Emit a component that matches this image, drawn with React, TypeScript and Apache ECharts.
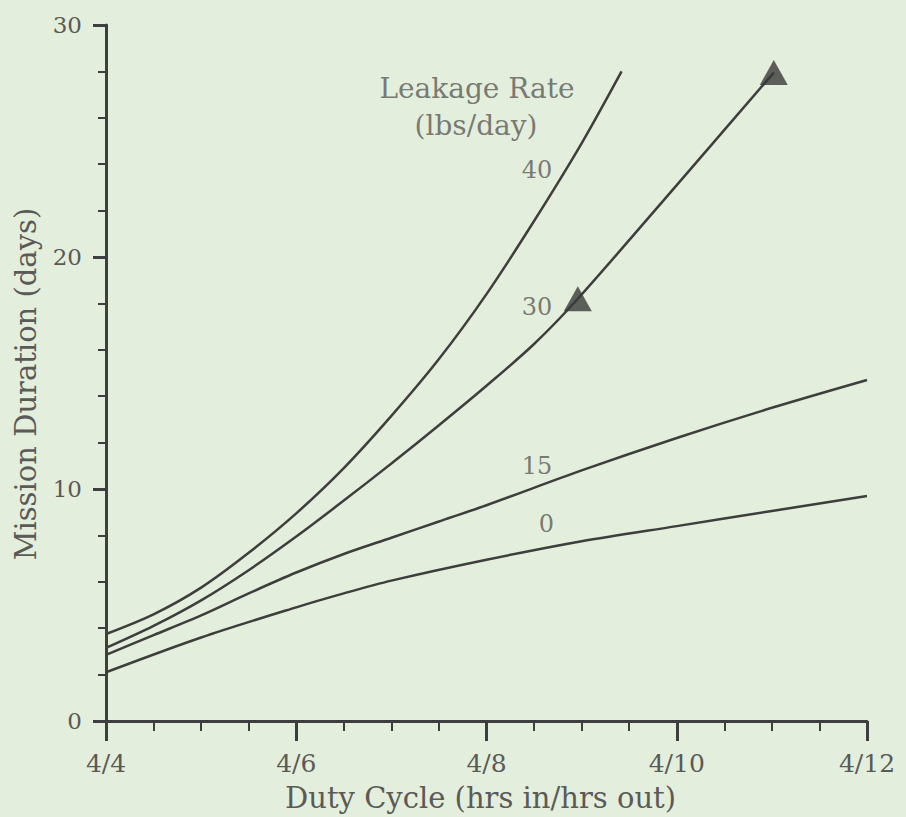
import React, { useEffect, useRef } from "react";
import * as echarts from "echarts";

// Duty cycle (hrs out, with 4 hrs in) vs mission duration (days), per leakage rate
const LEAK_40 = [[4, 3.75], [4.5, 4.6], [5, 5.75], [5.5, 7.25], [6, 8.95], [6.5, 10.9], [7, 13.15], [7.5, 15.6], [8, 18.4], [8.5, 21.55], [9, 24.9], [9.42, 28.0]];
const LEAK_30 = [[4, 3.15], [4.5, 4.1], [5, 5.2], [5.5, 6.5], [6, 7.95], [6.5, 9.5], [7, 11.1], [7.5, 12.75], [8, 14.45], [8.5, 16.25], [8.96, 18.2], [10, 23.1], [11.02, 27.95]];
const LEAK_15 = [[4, 2.85], [4.5, 3.7], [5, 4.55], [5.5, 5.5], [6, 6.4], [6.5, 7.2], [7, 7.9], [7.5, 8.6], [8, 9.3], [9, 10.8], [10, 12.2], [11, 13.5], [12, 14.7]];
const LEAK_0 = [[4, 2.1], [5, 3.6], [6, 4.9], [6.5, 5.5], [7, 6.05], [8, 6.95], [9, 7.75], [10, 8.4], [11, 9.05], [12, 9.7]];

const SERIES_NAMES = ["40", "30", "15", "0"];
const CURVE_LABELS = [
  { name: "40", value: [8.53, 23.74] },
  { name: "30", value: [8.53, 17.85] },
  { name: "15", value: [8.53, 10.97] },
  { name: "0", value: [8.63, 8.47] },
];
const TITLE_LINES = [
  { name: "Leakage Rate", value: [7.9, 27.27] },
  { name: "(lbs/day)", value: [7.89, 25.68] },
];
const TRIANGLES = [[8.96, 18.2], [11.02, 27.95]];

const X_MIN = 4, X_MAX = 12, X_STEP = 2;
const Y_MIN = 0, Y_MAX = 30, Y_STEP = 10;
const X_NAME = "Duty Cycle (hrs in/hrs out)";
const Y_NAME = "Mission Duration (days)";

const FONT = "DejaVu Serif";
const INK = "#3e3e3e";
const TEXT = "#5a5a58";

export default function App() {
  const ref = useRef<HTMLDivElement>(null);
  useEffect(() => {
    document.body.style.margin = "0";
    const chart = echarts.init(ref.current!, undefined, { renderer: "svg" });
    const curves = [LEAK_40, LEAK_30, LEAK_15, LEAK_0];
    chart.setOption({
      animation: false,
      backgroundColor: "#e4eedc",
      grid: { left: 106, right: 39, top: 25, bottom: 95 },
      xAxis: {
        type: "value",
        min: X_MIN,
        max: X_MAX,
        interval: X_STEP,
        axisLine: { show: true, onZero: false, lineStyle: { color: INK, width: 3 } },
        axisTick: { show: true, length: 20, lineStyle: { color: INK, width: 3 } },
        minorTick: { show: true, splitNumber: 4, length: 10, lineStyle: { color: INK, width: 2 } },
        splitLine: { show: false },
        minorSplitLine: { show: false },
        axisLabel: {
          margin: 30,
          fontSize: 25,
          fontFamily: FONT,
          color: TEXT,
          formatter: (v: number) => `4/${v}`,
        },
        name: X_NAME,
        nameLocation: "middle",
        nameGap: 62,
        nameTextStyle: { fontSize: 29, fontFamily: FONT, color: TEXT, padding: [0, 12, 0, 0] },
      },
      yAxis: {
        type: "value",
        min: Y_MIN,
        max: Y_MAX,
        interval: Y_STEP,
        axisLine: { show: true, onZero: false, lineStyle: { color: INK, width: 3 } },
        axisTick: { show: true, length: 13, lineStyle: { color: INK, width: 3 } },
        minorTick: { show: true, splitNumber: 5, length: 8, lineStyle: { color: INK, width: 2 } },
        splitLine: { show: false },
        minorSplitLine: { show: false },
        axisLabel: { margin: 24, fontSize: 23, fontFamily: FONT, color: TEXT },
        name: Y_NAME,
        nameLocation: "middle",
        nameGap: 66,
        nameTextStyle: { fontSize: 29, fontFamily: FONT, color: TEXT, padding: [0, 22, 0, 0] },
      },
      series: [
        ...curves.map((d, i) => ({
          type: "line",
          name: SERIES_NAMES[i],
          data: d,
          smooth: 0.3,
          showSymbol: false,
          lineStyle: { color: INK, width: 2.5 },
          z: 2,
        })),
        {
          type: "scatter",
          data: TRIANGLES,
          symbol: "triangle",
          symbolSize: [28, 25],
          itemStyle: { color: "#3a3a3a" },
          z: 3,
        },
        {
          type: "scatter",
          data: CURVE_LABELS,
          symbolSize: 0,
          label: {
            show: true,
            position: "inside",
            formatter: "{b}",
            fontSize: 24,
            fontFamily: FONT,
            color: TEXT,
          },
          z: 4,
        },
        {
          type: "scatter",
          data: TITLE_LINES,
          symbolSize: 0,
          label: {
            show: true,
            position: "inside",
            formatter: "{b}",
            fontSize: 28,
            fontFamily: FONT,
            color: TEXT,
          },
          z: 4,
        },
      ],
    });
    return () => chart.dispose();
  }, []);
  return <div ref={ref} style={{ width: 906, height: 817 }} />;
}
